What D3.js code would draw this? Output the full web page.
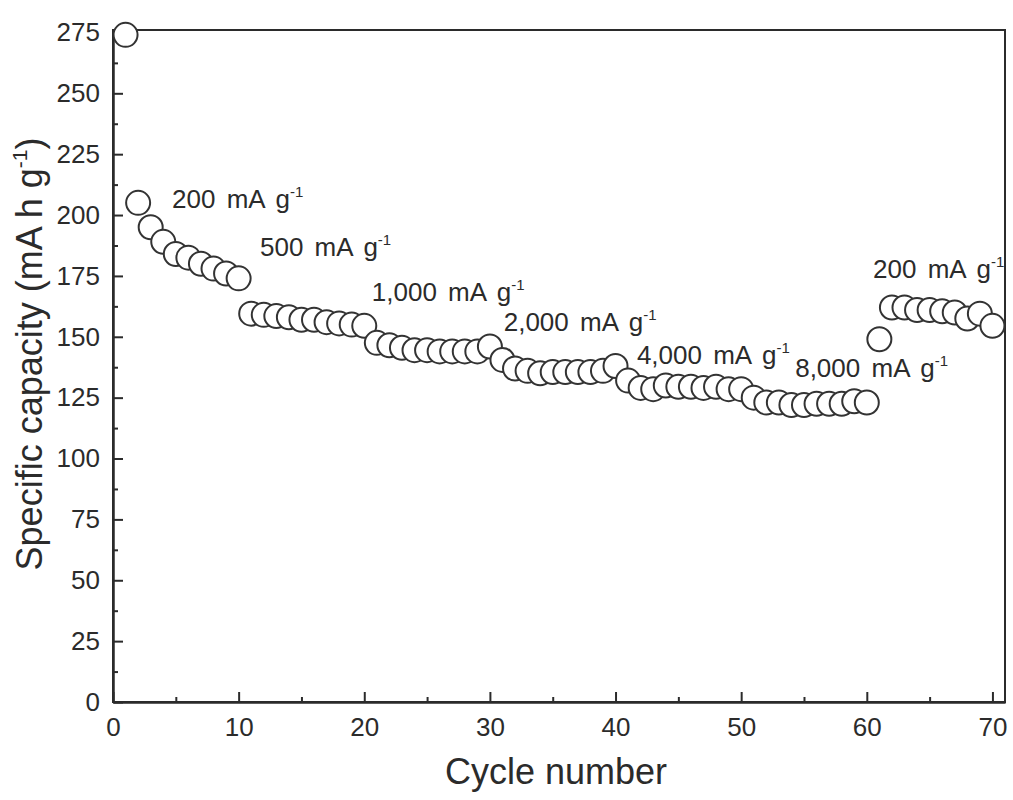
<!DOCTYPE html>
<html>
<head>
<meta charset="utf-8">
<script src="https://cdn.jsdelivr.net/npm/d3@7"></script>
<style>
  body { margin: 0; background: #fff; }
  text { font-family: "Liberation Sans", Arial, sans-serif; fill: #2b2b2b; }
  .axis path, .axis line { stroke: #2b2b2b; stroke-width: 2; }
  .axis text { font-size: 26px; }
</style>
</head>
<body>
<div id="chart"></div>
<script>
var width = 1013;
var height = 800;

var margin = { top: 30, left: 113, right: 8, bottom: 98 };
var plotW = width - margin.left - margin.right;
var plotH = height - margin.top - margin.bottom;

// capacity per current density, 10 cycles each (mA h g-1)
var cap200a = [274, 205, 195, 189, 184, 182.5, 180, 178, 176, 174];
var cap500 = [159.5, 159, 158.5, 158, 157, 157, 156, 155.5, 155, 154.5];
var cap1000 = [147.5, 146.5, 145.5, 144.5, 144.5, 144, 144, 144, 144, 146];
var cap2000 = [140.5, 137, 136, 135, 135.5, 135.5, 135.5, 135.5, 136, 138];
var cap4000 = [132, 129, 128.5, 130, 129.5, 129.5, 129, 129.5, 128.5, 128.5];
var cap8000 = [125, 123, 123, 122, 122, 122.5, 122.5, 122.5, 123.5, 123];
var cap200b = [149, 162, 162, 161, 161, 160.5, 160, 157.5, 159.5, 154.5];

var groups = [cap200a, cap500, cap1000, cap2000, cap4000, cap8000, cap200b];

var xTicks = [0, 10, 20, 30, 40, 50, 60, 70];
var xMinor = [5, 15, 25, 35, 45, 55, 65];
var yTicks = [0, 25, 50, 75, 100, 125, 150, 175, 200, 225, 250, 275];
var yMinor = [12.5, 37.5, 62.5, 87.5, 112.5, 137.5, 162.5, 187.5, 212.5, 237.5, 262.5];

// rate labels, anchored at (cycle, capacity)
var labels = [
    { text: "200 mA g", cycle: 4.7, cap: 203 },
    { text: "500 mA g", cycle: 11.7, cap: 183 },
    { text: "1,000 mA g", cycle: 20.6, cap: 164.5 },
    { text: "2,000 mA g", cycle: 31.1, cap: 152.5 },
    { text: "4,000 mA g", cycle: 41.7, cap: 139 },
    { text: "8,000 mA g", cycle: 54.3, cap: 133.5 },
    { text: "200 mA g", cycle: 60.5, cap: 174 }
];

// flatten into points, cycle numbers 1..70
var points = [];
groups.forEach(function (g, gi) {
    g.forEach(function (v, i) {
        points.push({ cycle: gi * 10 + i + 1, cap: v });
    });
});

var svg = d3.select("#chart")
    .append("svg")
    .attr("width", width)
    .attr("height", height)
    .append("g")
    .attr("transform", "translate(" + margin.left + "," + margin.top + ")");

var x = d3.scaleLinear().domain([0, 71]).range([0, plotW]);
var y = d3.scaleLinear().domain([0, 276]).range([plotH, 0]);

// frame
svg.append("rect")
    .attr("width", plotW)
    .attr("height", plotH)
    .attr("fill", "none")
    .attr("stroke", "#2b2b2b")
    .attr("stroke-width", 2);

// x axis
svg.append("g")
    .attr("class", "x axis")
    .attr("transform", "translate(0," + plotH + ")")
    .call(d3.axisBottom(x).tickValues(xTicks).tickSizeInner(-10).tickSizeOuter(0).tickPadding(16));
svg.append("g")
    .attr("class", "x axis minor")
    .attr("transform", "translate(0," + plotH + ")")
    .call(d3.axisBottom(x).tickValues(xMinor).tickSizeInner(-5).tickSizeOuter(0).tickFormat(""));

// y axis
svg.append("g")
    .attr("class", "y axis")
    .call(d3.axisLeft(y).tickValues(yTicks).tickSizeInner(-10).tickSizeOuter(0).tickPadding(13));
svg.append("g")
    .attr("class", "y axis minor")
    .call(d3.axisLeft(y).tickValues(yMinor).tickSizeInner(-5).tickSizeOuter(0).tickFormat(""));

// data, drawn in order so later circles cover earlier ones
svg.append("g")
    .selectAll("circle")
    .data(points)
    .join("circle")
    .attr("cx", d => x(d.cycle))
    .attr("cy", d => y(d.cap))
    .attr("r", 12)
    .attr("fill", "#fff")
    .attr("stroke", "#333")
    .attr("stroke-width", 2);

// rate labels
var lab = svg.append("g")
    .selectAll("text")
    .data(labels)
    .join("text")
    .attr("x", d => x(d.cycle))
    .attr("y", d => y(d.cap))
    .style("font-size", "26px")
    .style("word-spacing", "4px");
lab.append("tspan").text(d => d.text);
lab.append("tspan")
    .attr("dy", -11)
    .style("font-size", "15px")
    .text("-1");

// title---X
svg.append("text")
    .attr("x", plotW / 2 - 3)
    .attr("y", plotH + 82)
    .attr("text-anchor", "middle")
    .style("font-size", "36px")
    .text("Cycle number");

// title---Y
var yt = svg.append("text")
    .attr("transform", "translate(" + (42 - margin.left) + "," + (354 - margin.top) + ") rotate(-90)")
    .attr("text-anchor", "middle")
    .style("font-size", "36px");
yt.append("tspan").text("Specific capacity (mA h g");
yt.append("tspan").attr("dy", -15).style("font-size", "21px").text("-1");
yt.append("tspan").attr("dy", 15).text(")");
</script>
</body>
</html>
